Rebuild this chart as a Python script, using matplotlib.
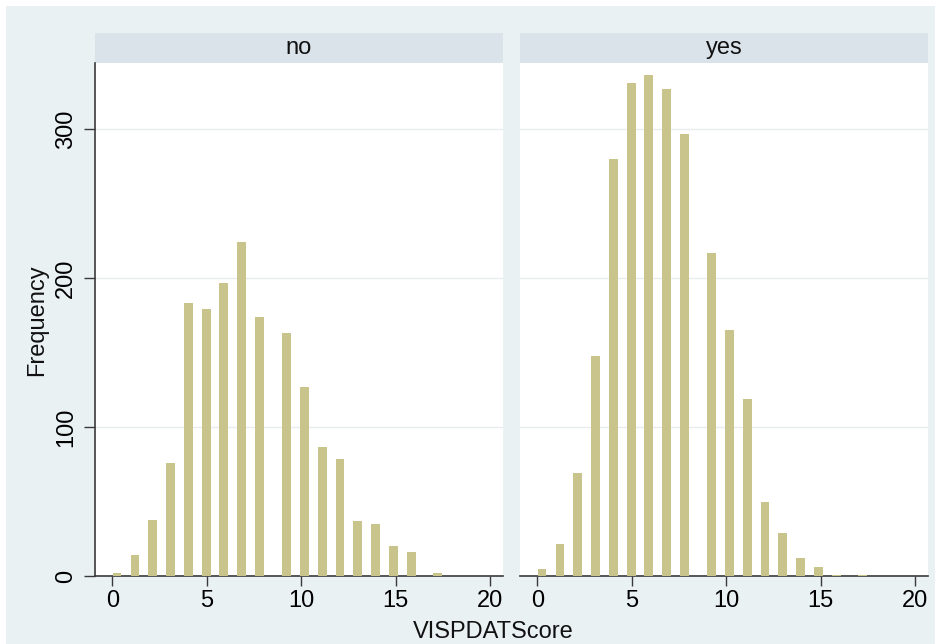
import matplotlib
matplotlib.use("Agg")
import matplotlib.pyplot as plt
from matplotlib.patches import Rectangle

plt.rcParams['font.family'] = ['Liberation Sans', 'DejaVu Sans']

# bar centres (score bins)
bin_centres = [0.25, 1.20, 2.14, 3.09, 4.03, 4.97, 5.91, 6.86, 7.81,
               9.23, 10.17, 11.11, 12.06, 13.0, 13.95, 14.89, 15.83, 17.24]
freq_no = [2, 14, 38, 76, 183, 179, 197, 224, 174,
           163, 127, 87, 79, 37, 35, 20, 16, 2]
freq_yes = [5, 22, 69, 148, 280, 331, 336, 327, 297,
            217, 165, 119, 50, 29, 12, 6, 1, 1]
panels = ['no', 'yes']
x_ticks = [0, 5, 10, 15, 20]
y_ticks = [0, 100, 200, 300]

W, H = 935, 644
bar_col = '#C9C48B'
bg_col = '#EAF1F3'
strip_col = '#D9E3E9'
fs = 17

fig = plt.figure(figsize=(W / 100, H / 100), dpi=100)
fig.patch.set_facecolor('white')
# light outer graph region
fig.patches.append(Rectangle((6 / W, 0), 1, 1 - 6 / H, transform=fig.transFigure,
                             facecolor=bg_col, edgecolor='none', zorder=0))

def fx(px):
    return px / W

def fy(py):
    return 1 - py / H

ax_bottom, ax_top = 576.3, 62.7
strip_top = 33.3
lefts = [95, 520]
width_px = 408

for i, (name, freq) in enumerate(zip(panels, [freq_no, freq_yes])):
    ax = fig.add_axes([fx(lefts[i]), fy(ax_bottom), fx(width_px), (ax_bottom - ax_top) / H])
    ax.set_zorder(2)
    ax.set_facecolor('white')
    ax.bar(bin_centres, freq, width=0.47, color=bar_col, edgecolor='none', zorder=3)
    ax.set_xlim(-0.916, 20.69)
    ax.set_ylim(0, 344.5)
    ax.set_xticks(x_ticks)
    ax.set_yticks(y_ticks)
    ax.grid(axis='y', color='#E8ECEE', linewidth=1.0, zorder=1)
    ax.set_axisbelow(True)
    for s in ['top', 'right']:
        ax.spines[s].set_visible(False)
    ax.spines['bottom'].set_color('#3A3A3A')
    ax.spines['bottom'].set_linewidth(1.2)
    ax.tick_params(axis='x', direction='out', length=7, width=1, color='#3A3A3A',
                   labelsize=fs, pad=3)
    if i == 0:
        ax.spines['left'].set_color('#3A3A3A')
        ax.spines['left'].set_linewidth(1.2)
        ax.tick_params(axis='y', direction='out', length=8, width=1, color='#3A3A3A',
                       labelsize=fs, pad=5)
        for lab in ax.get_yticklabels():
            lab.set_rotation(90)
            lab.set_va('center')
    else:
        ax.spines['left'].set_visible(False)
        ax.tick_params(axis='y', left=False, labelleft=False)

    # facet strip
    fig.patches.append(Rectangle((fx(lefts[i]), fy(ax_top)), fx(width_px),
                                 (ax_top - strip_top) / H, transform=fig.transFigure,
                                 facecolor=strip_col, edgecolor='none', zorder=1))
    fig.text(fx(lefts[i] + width_px / 2), fy((ax_top + strip_top) / 2), name,
             ha='center', va='center', fontsize=fs, color='#111111')

fig.text(fx(37), fy(320), 'Frequency', rotation=90, ha='center', va='center',
         fontsize=fs, color='#111111')
fig.text(fx(493), fy(632), 'VISPDATScore', ha='center', va='center',
         fontsize=fs, color='#111111')

fig.savefig('out.png', dpi=100, facecolor=fig.get_facecolor())
